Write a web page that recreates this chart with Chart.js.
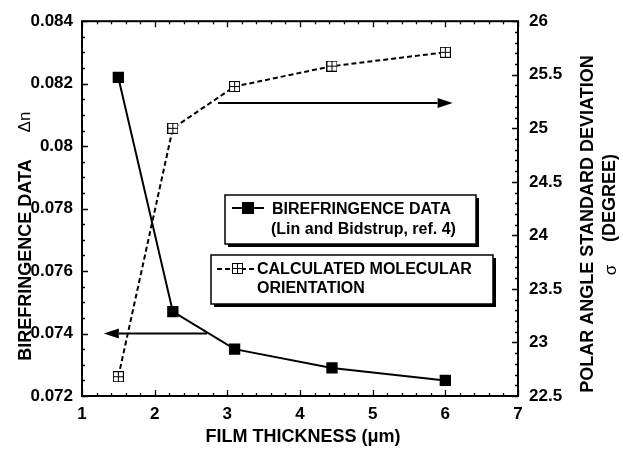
<!DOCTYPE html>
<html>
<head>
<meta charset="utf-8">
<script src="https://cdn.jsdelivr.net/npm/chart.js@4.4.0/dist/chart.umd.min.js"></script>
<style>
  body { margin: 0; background: #fff; }
  canvas { display: block; }
</style>
</head>
<body>
<canvas id="chart" width="623" height="451"></canvas>
<script>
// data
const thickness = [1.5, 2.25, 3.1, 4.44, 6.0];
const birefringence = [0.0822, 0.0747, 0.0735, 0.0729, 0.0725];
const polarAngleSd = [22.68, 25.0, 25.39, 25.58, 25.71];

const xTicks = [1, 2, 3, 4, 5, 6, 7];
const leftTicks = [0.072, 0.074, 0.076, 0.078, 0.08, 0.082, 0.084];
const rightTicks = [22.5, 23, 23.5, 24, 24.5, 25, 25.5, 26];

// arrows pointing to the axis each curve belongs to (data units)
const arrowToLeft = { from: 2.72, to: 1.3, y: 0.074, axis: 'yL' };
const arrowToRight = { from: 2.87, to: 6.1, y: 25.235, axis: 'yR' };

const legendText = [
    ['BIREFRINGENCE DATA', '(Lin and Bidstrup, ref. 4)'],
    ['CALCULATED MOLECULAR', 'ORIENTATION']
];

const FONT = "'Liberation Sans', Arial, Helvetica, sans-serif";
const DASH = [5, 3];

// open square with a cross, used for the calculated series
function crossSquare(size) {
    const c = document.createElement('canvas');
    c.width = size; c.height = size;
    const g = c.getContext('2d');
    g.fillStyle = '#fff';
    g.fillRect(0, 0, size, size);
    g.strokeStyle = '#000';
    g.lineWidth = 1;
    g.strokeRect(0.5, 0.5, size - 1, size - 1);
    const m = Math.floor(size / 2) + 0.5;
    g.beginPath();
    g.moveTo(m, 0); g.lineTo(m, size);
    g.moveTo(0, m); g.lineTo(size, m);
    g.stroke();
    return c;
}
const crossMarker = crossSquare(11);

function drawArrow(ctx, x0, x1, y) {
    const dir = Math.sign(x1 - x0);
    const head = 15;
    ctx.beginPath();
    ctx.moveTo(x0, y);
    ctx.lineTo(x1 - dir * head, y);
    ctx.lineWidth = 2;
    ctx.stroke();
    ctx.beginPath();
    ctx.moveTo(x1, y);
    ctx.lineTo(x1 - dir * head, y - 5);
    ctx.lineTo(x1 - dir * head, y + 5);
    ctx.closePath();
    ctx.fill();
}

const decorations = {
    id: 'decorations',
    afterDraw(chart) {
        const ctx = chart.ctx;
        const a = chart.chartArea;
        const sx = chart.scales.x, sl = chart.scales.yL, sr = chart.scales.yR;
        ctx.save();
        ctx.strokeStyle = '#000';
        ctx.fillStyle = '#000';

        // frame
        ctx.lineWidth = 2;
        ctx.strokeRect(a.left, a.top, a.right - a.left, a.bottom - a.top);

        // inward ticks, major + minor
        ctx.lineWidth = 1.3;
        ctx.beginPath();
        for (let i = 0; i <= 30; i++) {
            const v = 1 + i * 0.2;
            const px = Math.round(sx.getPixelForValue(v)) + 0.5;
            const len = i % 5 === 0 ? 6 : 3;
            ctx.moveTo(px, a.bottom); ctx.lineTo(px, a.bottom - len);
            ctx.moveTo(px, a.top); ctx.lineTo(px, a.top + len);
        }
        for (let i = 0; i <= 24; i++) {
            const v = 0.072 + i * 0.0005;
            const py = Math.round(sl.getPixelForValue(v)) + 0.5;
            const len = i % 4 === 0 ? 6 : 3;
            ctx.moveTo(a.left, py); ctx.lineTo(a.left + len, py);
        }
        for (let i = 0; i <= 35; i++) {
            const v = 22.5 + i * 0.1;
            const py = Math.round(sr.getPixelForValue(v)) + 0.5;
            const len = i % 5 === 0 ? 6 : 3;
            ctx.moveTo(a.right, py); ctx.lineTo(a.right - len, py);
        }
        ctx.stroke();

        // arrows
        [arrowToLeft, arrowToRight].forEach(ar => {
            const y = chart.scales[ar.axis].getPixelForValue(ar.y);
            drawArrow(ctx, sx.getPixelForValue(ar.from), sx.getPixelForValue(ar.to), y);
        });

        // legend boxes with drop shadow
        const boxes = [
            { l: 225, t: 195, r: 476, b: 244 },
            { l: 211, t: 255, r: 493, b: 304 }
        ];
        boxes.forEach(b => {
            ctx.fillStyle = '#000';
            ctx.fillRect(b.l + 3, b.t + 3, b.r - b.l, b.b - b.t);
            ctx.fillStyle = '#fff';
            ctx.fillRect(b.l, b.t, b.r - b.l, b.b - b.t);
            ctx.lineWidth = 1.5;
            ctx.strokeRect(b.l, b.t, b.r - b.l, b.b - b.t);
        });
        ctx.fillStyle = '#000';
        // sample 1: solid line + filled square
        ctx.lineWidth = 2;
        ctx.beginPath(); ctx.moveTo(232, 208); ctx.lineTo(264, 208); ctx.stroke();
        ctx.fillRect(242, 202, 12, 12);
        // sample 2: dashed line + cross square
        ctx.lineWidth = 2;
        ctx.setLineDash(DASH);
        ctx.beginPath(); ctx.moveTo(217, 269); ctx.lineTo(254, 269); ctx.stroke();
        ctx.setLineDash([]);
        ctx.drawImage(crossMarker, 232, 263);

        ctx.font = 'bold 16px ' + FONT;
        ctx.textBaseline = 'middle';
        ctx.textAlign = 'left';
        ctx.fillText(legendText[0][0], 272, 210);
        ctx.fillText(legendText[0][1], 271, 230);
        ctx.fillText(legendText[1][0], 257, 270);
        ctx.fillText(legendText[1][1], 257, 289);

        // axis titles
        ctx.textAlign = 'center';
        ctx.font = 'bold 18px ' + FONT;
        ctx.fillText('FILM THICKNESS (\u03BCm)', 303, 437);

        ctx.save();
        ctx.translate(26, 260); ctx.rotate(-Math.PI / 2);
        ctx.fillText('BIREFRINGENCE DATA', 0, 0);
        ctx.restore();
        ctx.save();
        ctx.translate(25, 122); ctx.rotate(-Math.PI / 2);
        ctx.font = '17px ' + FONT;
        ctx.fillText('\u0394n', 0, 0);
        ctx.restore();

        ctx.save();
        ctx.translate(588, 224); ctx.rotate(-Math.PI / 2);
        ctx.fillText('POLAR ANGLE STANDARD DEVIATION', 0, 0);
        ctx.restore();
        ctx.save();
        ctx.translate(610, 198); ctx.rotate(-Math.PI / 2);
        ctx.fillText('(DEGREE)', 0, 0);
        ctx.restore();
        ctx.save();
        ctx.translate(611, 270); ctx.rotate(-Math.PI / 2);
        ctx.font = '17px ' + FONT;
        ctx.fillText('\u03C3', 0, 0);
        ctx.restore();

        ctx.restore();
    }
};

const tickFont = { family: FONT, size: 17, weight: 'bold' };

new Chart(document.getElementById('chart'), {
    type: 'line',
    data: {
        datasets: [{
            label: 'BIREFRINGENCE DATA (Lin and Bidstrup, ref. 4)',
            data: thickness.map((x, i) => ({ x: x, y: birefringence[i] })),
            yAxisID: 'yL',
            borderColor: '#000',
            backgroundColor: '#000',
            borderWidth: 2,
            pointStyle: 'rect',
            pointRadius: 8,
            pointBorderWidth: 0,
            tension: 0
        }, {
            label: 'CALCULATED MOLECULAR ORIENTATION',
            data: thickness.map((x, i) => ({ x: x, y: polarAngleSd[i] })),
            yAxisID: 'yR',
            borderColor: '#000',
            borderWidth: 2,
            borderDash: DASH,
            pointStyle: crossMarker,
            pointRadius: 6,
            tension: 0
        }]
    },
    options: {
        responsive: false,
        animation: false,
        events: [],
        layout: { padding: { top: 16, left: 0, right: 0, bottom: 0 } },
        plugins: { legend: { display: false }, tooltip: { enabled: false } },
        scales: {
            x: {
                type: 'linear',
                min: 1, max: 7,
                grid: { display: false, drawTicks: false },
                border: { display: false },
                afterBuildTicks: s => { s.ticks = xTicks.map(v => ({ value: v })); },
                afterFit: s => { s.height = 55; },
                ticks: { color: '#000', font: tickFont, padding: 8, maxRotation: 0 }
            },
            yL: {
                type: 'linear',
                position: 'left',
                min: 0.072, max: 0.084,
                grid: { display: false, drawTicks: false },
                border: { display: false },
                afterBuildTicks: s => { s.ticks = leftTicks.map(v => ({ value: v })); },
                afterFit: s => { s.width = 82; },
                ticks: { color: '#000', font: tickFont, padding: 9, callback: v => String(+v.toFixed(3)) }
            },
            yR: {
                type: 'linear',
                position: 'right',
                min: 22.5, max: 26,
                grid: { display: false, drawTicks: false },
                border: { display: false },
                afterBuildTicks: s => { s.ticks = rightTicks.map(v => ({ value: v })); },
                afterFit: s => { s.width = 105; },
                ticks: { color: '#000', font: tickFont, padding: 11, callback: v => String(v) }
            }
        }
    },
    plugins: [decorations]
});
</script>
</body>
</html>
